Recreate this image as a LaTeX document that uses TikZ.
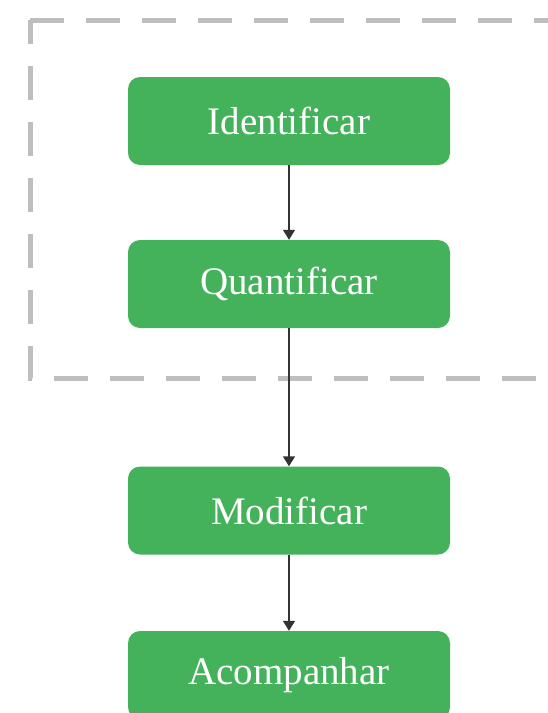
\documentclass[tikz,border=0pt]{standalone}
\usepackage{fontspec}
\setmainfont{Liberation Serif}
\usetikzlibrary{arrows.meta}
\definecolor{boxgreen}{RGB}{67,178,91}
\definecolor{dashgray}{RGB}{190,190,192}
\definecolor{arrowgray}{RGB}{51,51,51}
\begin{document}
\begin{tikzpicture}[x=1pt,y=-1pt,
  stepbox/.style={rectangle, rounded corners=12pt, fill=boxgreen, draw=none,
    minimum width=322pt, minimum height=88pt, inner sep=0pt,
    text=white, font=\fontsize{39}{45}\selectfont},
  link/.style={draw=arrowgray, line width=1.4pt, -{Triangle[length=10pt,width=12pt]}},
  group/.style={draw=dashgray, line width=5pt, dash pattern=on 34pt off 22pt}]
\useasboundingbox (0,0) rectangle (547,713);
\draw[group] (30,20) -- (580,20) -- (580,378) -- (30,378) -- cycle;
\node[stepbox] (a) at (289,121) {Identificar};
\node[stepbox] (b) at (289,284) {Quantificar};
\node[stepbox] (c) at (289,510.5) {Modificar};
\node[stepbox] (d) at (289,675) {Acompanhar};
\draw[link] (a) -- (b);
\draw[link] (b) -- (c);
\draw[link] (c) -- (d);
\end{tikzpicture}
\end{document}
